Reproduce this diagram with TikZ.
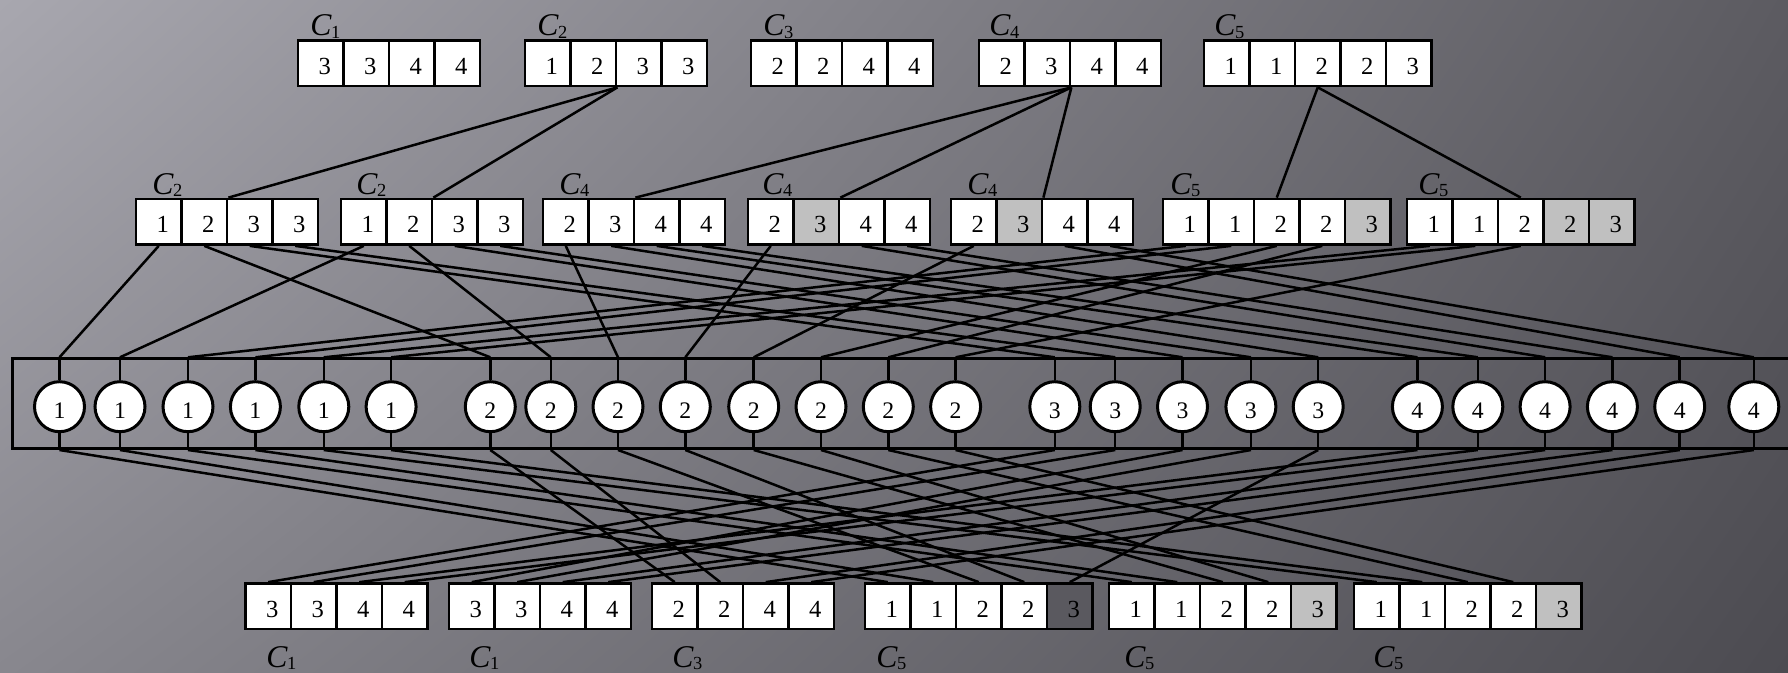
\documentclass[tikz,border=0pt]{standalone}
\usepackage{fontspec}
\setmainfont{Liberation Serif}
\usetikzlibrary{shadings}
\definecolor{cellgray}{HTML}{C0C0C0}
\definecolor{celldark}{HTML}{5A595F}
\definecolor{bgUL}{HTML}{A8A7AF}
\definecolor{bgUR}{HTML}{5C5B61}
\definecolor{bgLL}{HTML}{88878E}
\definecolor{bgLR}{HTML}{4C4B51}
\newcommand\mkbox[4]{%
  \foreach \sty/\val [count=\ii] in {#4}{%
    \node[cell,\sty] (#1-\ii) at ({#2+(\ii-0.5)*45.5},{#3+22.75}) {\hspace*{1.6mm}\val};
  }%
}
\newcommand\clab[1]{{\itshape C}\kern-0.2pt\raisebox{-0.4mm}{\fontsize{10.5}{10.5}\selectfont #1}}
\begin{document}
\begin{tikzpicture}[x=0.2mm,y=-0.2mm,
  cell/.style={draw=black, line width=0.55mm, minimum width=9.1mm, minimum height=9.1mm,
    inner sep=0pt, font=\fontsize{14}{14}\selectfont, text height=4.4mm, text depth=0pt},
  wcell/.style={fill=white},
  gcell/.style={fill=cellgray},
  dcell/.style={fill=celldark},
  circ/.style={circle, draw=black, fill=white, line width=0.6mm, minimum size=10mm,
    inner sep=0pt, font=\fontsize{13.5}{13.5}\selectfont, text height=4.7mm, text depth=0pt},
  lab/.style={anchor=base west, inner sep=0pt, font=\fontsize{18}{18}\selectfont},
  conn/.style={line width=0.5mm, draw=black},
]
\useasboundingbox (0,0) rectangle (1788,672);
\clip (0,0) rectangle (1788,672);
\shade[upper left=bgUL, upper right=bgUR, lower left=bgLL, lower right=bgLR] (0,0) rectangle (1788,672);

% top row
\mkbox{t1}{298}{40.5}{wcell/3,wcell/3,wcell/4,wcell/4}
\mkbox{t2}{525}{40.5}{wcell/1,wcell/2,wcell/3,wcell/3}
\mkbox{t3}{751}{40.5}{wcell/2,wcell/2,wcell/4,wcell/4}
\mkbox{t4}{979}{40.5}{wcell/2,wcell/3,wcell/4,wcell/4}
\mkbox{t5}{1204}{40.5}{wcell/1,wcell/1,wcell/2,wcell/2,wcell/3}
\node[lab] (lt1) at (310,36) {\clab{1}};
\node[lab] (lt2) at (537,36) {\clab{2}};
\node[lab] (lt3) at (763,36) {\clab{3}};
\node[lab] (lt4) at (989,36) {\clab{4}};
\node[lab] (lt5) at (1214,36) {\clab{5}};

% middle row
\mkbox{m1}{136}{199}{wcell/1,wcell/2,wcell/3,wcell/3}
\mkbox{m2}{341}{199}{wcell/1,wcell/2,wcell/3,wcell/3}
\mkbox{m3}{543}{199}{wcell/2,wcell/3,wcell/4,wcell/4}
\mkbox{m4}{748}{199}{wcell/2,gcell/3,wcell/4,wcell/4}
\mkbox{m5}{951}{199}{wcell/2,gcell/3,wcell/4,wcell/4}
\mkbox{m6}{1163}{199}{wcell/1,wcell/1,wcell/2,wcell/2,gcell/3}
\mkbox{m7}{1407}{199}{wcell/1,wcell/1,wcell/2,gcell/2,gcell/3}
\node[lab] (lm1) at (152,194) {\clab{2}};
\node[lab] (lm2) at (356,194) {\clab{2}};
\node[lab] (lm3) at (559,194) {\clab{4}};
\node[lab] (lm4) at (762,194) {\clab{4}};
\node[lab] (lm5) at (967,194) {\clab{4}};
\node[lab] (lm6) at (1170,194) {\clab{5}};
\node[lab] (lm7) at (1418,194) {\clab{5}};

% bottom row
\mkbox{b1}{245.5}{583.5}{wcell/3,wcell/3,wcell/4,wcell/4}
\mkbox{b2}{449}{583.5}{wcell/3,wcell/3,wcell/4,wcell/4}
\mkbox{b3}{652}{583.5}{wcell/2,wcell/2,wcell/4,wcell/4}
\mkbox{b4}{865}{583.5}{wcell/1,wcell/1,wcell/2,wcell/2,dcell/3}
\mkbox{b5}{1109}{583.5}{wcell/1,wcell/1,wcell/2,wcell/2,gcell/3}
\mkbox{b6}{1354}{583.5}{wcell/1,wcell/1,wcell/2,wcell/2,gcell/3}
\node[lab] (lb1) at (266,667) {\clab{1}};
\node[lab] (lb2) at (469,667) {\clab{1}};
\node[lab] (lb3) at (672,667) {\clab{3}};
\node[lab] (lb4) at (876,667) {\clab{5}};
\node[lab] (lb5) at (1124,667) {\clab{5}};
\node[lab] (lb6) at (1373,667) {\clab{5}};

% circle bar
\node[draw=black, line width=0.54mm, minimum width=357.8mm, minimum height=18mm,
  inner sep=0pt, anchor=north west] (bar) at (11,357.3) {};
\foreach \xx/\vv [count=\ii] in {59.5/1,120/1,188/1,255.4/1,323.8/1,391.1/1,
    490.3/2,550.8/2,618/2,685.3/2,753.7/2,821/2,888.3/2,955.6/2,
    1054.8/3,1115.2/3,1182.5/3,1250.9/3,1318.2/3,
    1417.4/4,1477.8/4,1545.1/4,1612.4/4,1679.7/4,1753.8/4}{
  \node[circ] (k\ii) at (\xx,406.7) {\vv};
  \coordinate (ut\ii) at (k\ii |- bar.north);
  \coordinate (ub\ii) at (k\ii |- bar.south);
  \draw[conn] (ut\ii) -- (k\ii.north);
  \draw[conn] (k\ii.south) -- (ub\ii);
}

% top -> middle
\draw[conn] (t2-2.south east) -- (m1-2.north east);
\draw[conn] (t2-2.south east) -- (m2-2.north east);
\draw[conn] (t4-2.south east) -- (m3-2.north east);
\draw[conn] (t4-2.south east) -- (m4-2.north east);
\draw[conn] (t4-2.south east) -- (m5-2.north east);
\draw[conn] (t5-3.south) -- (m6-3.north);
\draw[conn] (t5-3.south) -- (m7-3.north);

% middle -> circles
\foreach \cn/\mc in {1/m1-1,2/m2-1,3/m6-1,4/m6-2,5/m7-1,6/m7-2,
    7/m1-2,8/m2-2,9/m3-1,10/m4-1,11/m5-1,12/m6-3,13/m6-4,14/m7-3,
    15/m1-3,16/m1-4,17/m2-3,18/m2-4,19/m3-2,
    20/m3-3,21/m3-4,22/m4-3,23/m4-4,24/m5-3,25/m5-4}{
  \draw[conn] (\mc.south) -- (ut\cn);
}

% circles -> bottom
\foreach \cn/\bc in {1/b4-1,2/b4-2,3/b5-1,4/b5-2,5/b6-1,6/b6-2,
    7/b3-1,8/b3-2,9/b4-3,10/b4-4,11/b5-3,12/b5-4,13/b6-3,14/b6-4,
    15/b1-1,16/b1-2,17/b2-1,18/b2-2,19/b4-5,
    20/b1-3,21/b1-4,22/b2-3,23/b2-4,24/b3-3,25/b3-4}{
  \draw[conn] (ub\cn) -- (\bc.north);
}
\end{tikzpicture}
\end{document}
